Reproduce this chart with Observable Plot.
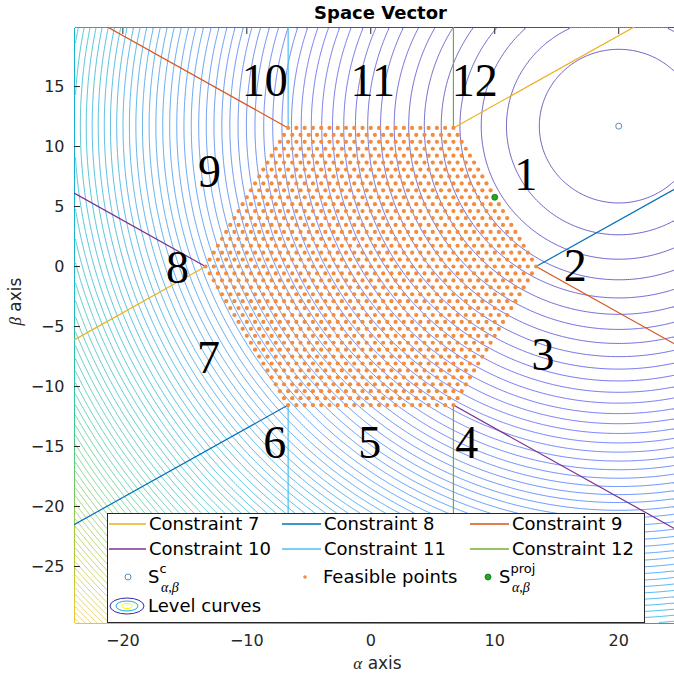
<!DOCTYPE html>
<html><head><meta charset="utf-8">
<script src="https://cdn.jsdelivr.net/npm/d3@7"></script>
<script src="https://cdn.jsdelivr.net/npm/@observablehq/plot@0.6"></script>
<style>
html,body{margin:0;padding:0;background:#fff;overflow:hidden;}
#chart{position:relative;width:674px;height:681px;}
</style></head><body><div id="chart"></div>
<script>
// ---- data ----
const xDomain = [-23.9, 24.5];
const yDomain = [-29.75, 19.92];
const xTicks = [-20, -10, 0, 10, 20];
const yTicks = [-25, -20, -15, -10, -5, 0, 5, 10, 15];
const hexRadius = 40 / 3;          // circumradius of the hexagon
const hexLevels = 20;              // lattice steps per side
const sC = [20, 11.7];             // S^c
const sProj = [10, 5.77];          // S^proj
const levelStep = 41;              // spacing of level curves (squared distance)
const colorMax = 4300;             // top of the colour map
const constraintNames = ["Constraint 7", "Constraint 8", "Constraint 9", "Constraint 10", "Constraint 11", "Constraint 12"];
const constraintColors = ["#EDB120", "#0072BD", "#D95319", "#7E2F8E", "#4DBEEE", "#77AC30"];
// each constraint = two rays: [hexagon vertex index, direction in degrees]
const constraintRays = [
  [[1, 30], [3, 210]],
  [[0, 30], [4, 210]],
  [[2, 150], [0, 330]],
  [[3, 150], [5, 330]],
  [[2, 90], [4, 270]],
  [[1, 90], [5, 270]]
];
const regionLabels = ["1", "2", "3", "4", "5", "6", "7", "8", "9", "10", "11", "12"];
const regionX = [12.5, 16.5, 13.9, 7.74, -0.08, -7.74, -13.1, -15.6, -13.0, -8.55, 0.16, 8.39];
const regionY = [7.58, 0, -7.42, -14.7, -14.7, -14.7, -7.67, -0.17, 7.83, 15.4, 15.4, 15.4];
const parula = ["#3E26A8", "#4852F4", "#2D87F7", "#11B1D6", "#37C897", "#ABC739", "#FEC338", "#F9FB15"];

// ---- derived tables ----
const deg = Math.PI / 180;
const vertices = d3.range(6).map(i => [hexRadius * Math.cos(60 * i * deg), hexRadius * Math.sin(60 * i * deg)]);
const rays = [];
constraintRays.forEach((pair, ci) => pair.forEach(([vi, a]) => {
  const [vx, vy] = vertices[vi];
  rays.push({c: ci, x1: vx, y1: vy, x2: vx + 80 * Math.cos(a * deg), y2: vy + 80 * Math.sin(a * deg)});
}));
const step = hexRadius / hexLevels;
const feasible = [];
for (let b = -hexLevels; b <= hexLevels; b++)
  for (let a = -hexLevels; a <= hexLevels; a++)
    if (Math.abs(a + b) <= hexLevels) feasible.push({x: (a + b / 2) * step, y: b * step * Math.sqrt(3) / 2});
const f = (x, y) => (x - sC[0]) ** 2 + (y - sC[1]) ** 2;
const maxLevel = d3.max([[xDomain[0], yDomain[0]], [xDomain[0], yDomain[1]], [xDomain[1], yDomain[0]], [xDomain[1], yDomain[1]]], ([x, y]) => f(x, y));
const levels = d3.range(levelStep, maxLevel, levelStep);
const regions = regionLabels.map((t, i) => ({t, x: regionX[i], y: regionY[i]}));

const plot = Plot.plot({
  width: 674, height: 681,
  marginLeft: 74, marginRight: 0, marginTop: 27, marginBottom: 58,
  style: {fontFamily: "DejaVu Sans", fontSize: "16px", color: "#262626", background: "#fff"},
  x: {domain: xDomain},
  y: {domain: yDomain},
  color: {type: "linear", domain: [0, colorMax], interpolate: d3.piecewise(d3.interpolateRgb, parula)},
  marks: [
    Plot.contour({x1: xDomain[0], x2: xDomain[1], y1: yDomain[0], y2: yDomain[1],
      value: f, thresholds: levels, stroke: "value", fill: "none", strokeWidth: 0.75}),
    Plot.link(rays, {x1: "x1", y1: "y1", x2: "x2", y2: "y2", stroke: d => constraintColors[d.c], strokeWidth: 1.2, clip: true}),
    Plot.dot(feasible, {x: "x", y: "y", r: 2.1, fill: "#F28C40", stroke: "none"}),
    Plot.dot([sC], {x: d => d[0], y: d => d[1], r: 3, stroke: "#5B8DB8", strokeWidth: 1, fill: "none"}),
    Plot.dot([sProj], {x: d => d[0], y: d => d[1], r: 3, fill: "#22A822", stroke: "#137013", strokeWidth: 0.8}),
    Plot.text(regions, {x: "x", y: "y", text: "t", fontFamily: "Liberation Serif", fontSize: 46, fill: "#000", textAnchor: "middle", lineAnchor: "middle"}),
    Plot.axisX(xTicks, {anchor: "bottom", tickSize: -6, tickPadding: 17, line: true, label: null, stroke: "#262626", fill: "#262626"}),
    Plot.axisX(xTicks, {anchor: "top", tickSize: -6, tickFormat: () => "", line: true, label: null, stroke: "#262626"}),
    Plot.axisY(yTicks, {anchor: "left", tickSize: -6, tickPadding: 16, line: true, label: null, stroke: "#262626", fill: "#262626"}),
    Plot.text(["Space Vector"], {frameAnchor: "top", dx: 6, dy: -14, fontWeight: "bold", fontSize: 18, fill: "#000", lineAnchor: "middle"}),
    Plot.text(["α axis"], {frameAnchor: "bottom", dx: 3, dy: 40, fontSize: 17, fill: "#262626", lineAnchor: "middle"}),
    Plot.text(["β axis"], {frameAnchor: "left", dx: -59, rotate: -90, fontSize: 17, fill: "#262626", lineAnchor: "middle"})
  ]
});
document.getElementById("chart").appendChild(plot);

// greek letters in serif italic for axis labels
d3.select(plot).selectAll("text").each(function () {
  const s = d3.select(this);
  const t = s.text();
  if (t === "α axis" || t === "β axis") {
    s.text(null);
    s.append("tspan").attr("font-family", "Liberation Serif").attr("font-style", "italic").text(t[0]);
    s.append("tspan").text(t.slice(1));
  }
});

// ---- legend (inside the axes) ----
const lg = d3.select(plot).append("g").attr("font-family", "DejaVu Sans").attr("font-size", 18).attr("fill", "#000").attr("text-anchor", "start");
lg.append("rect").attr("x", 107.5).attr("y", 513.5).attr("width", 537).attr("height", 109).attr("fill", "#fff").attr("stroke", "#262626").attr("stroke-width", 1);
const colLine = [[109, 146], [282, 321], [470, 509]];
const colText = [149, 324, 512];
const rowY = [524, 549];
constraintNames.forEach((name, i) => {
  const c = i % 3, r = Math.floor(i / 3);
  lg.append("line").attr("x1", colLine[c][0]).attr("x2", colLine[c][1]).attr("y1", rowY[r]).attr("y2", rowY[r]).attr("stroke", constraintColors[i]).attr("stroke-width", 1.5);
  lg.append("text").attr("x", colText[c]).attr("y", rowY[r]).attr("dy", "0.36em").text(name);
});
const y3 = 577;
lg.append("circle").attr("cx", 128).attr("cy", y3).attr("r", 3).attr("fill", "none").attr("stroke", "#5B8DB8");
function sLabel(x, sup) {
  const t = lg.append("text").attr("x", x).attr("y", y3).attr("dy", "0.36em");
  t.append("tspan").text("S");
  t.append("tspan").attr("font-size", 13).attr("dy", -10).text(sup);
  t.append("tspan").attr("x", x + 13).attr("dy", 19).attr("font-size", 14).attr("font-family", "Liberation Serif").attr("font-style", "italic").text("α,β");
}
sLabel(148, "c");
lg.append("circle").attr("cx", 305).attr("cy", y3).attr("r", 1.8).attr("fill", "#F28C40");
lg.append("text").attr("x", 323).attr("y", y3).attr("dy", "0.36em").text("Feasible points");
lg.append("circle").attr("cx", 488).attr("cy", y3).attr("r", 3).attr("fill", "#22A822").attr("stroke", "#137013").attr("stroke-width", 0.8);
sLabel(499, "proj");
const y4 = 606;
[[17, 8, parula[0]], [11, 5, parula[3]], [5, 2.5, parula[7]]].forEach(([rx, ry, col]) =>
  lg.append("ellipse").attr("cx", 127).attr("cy", y4).attr("rx", rx).attr("ry", ry).attr("fill", "none").attr("stroke", col).attr("stroke-width", 1));
lg.append("text").attr("x", 148).attr("y", y4).attr("dy", "0.36em").text("Level curves");
</script></body></html>
